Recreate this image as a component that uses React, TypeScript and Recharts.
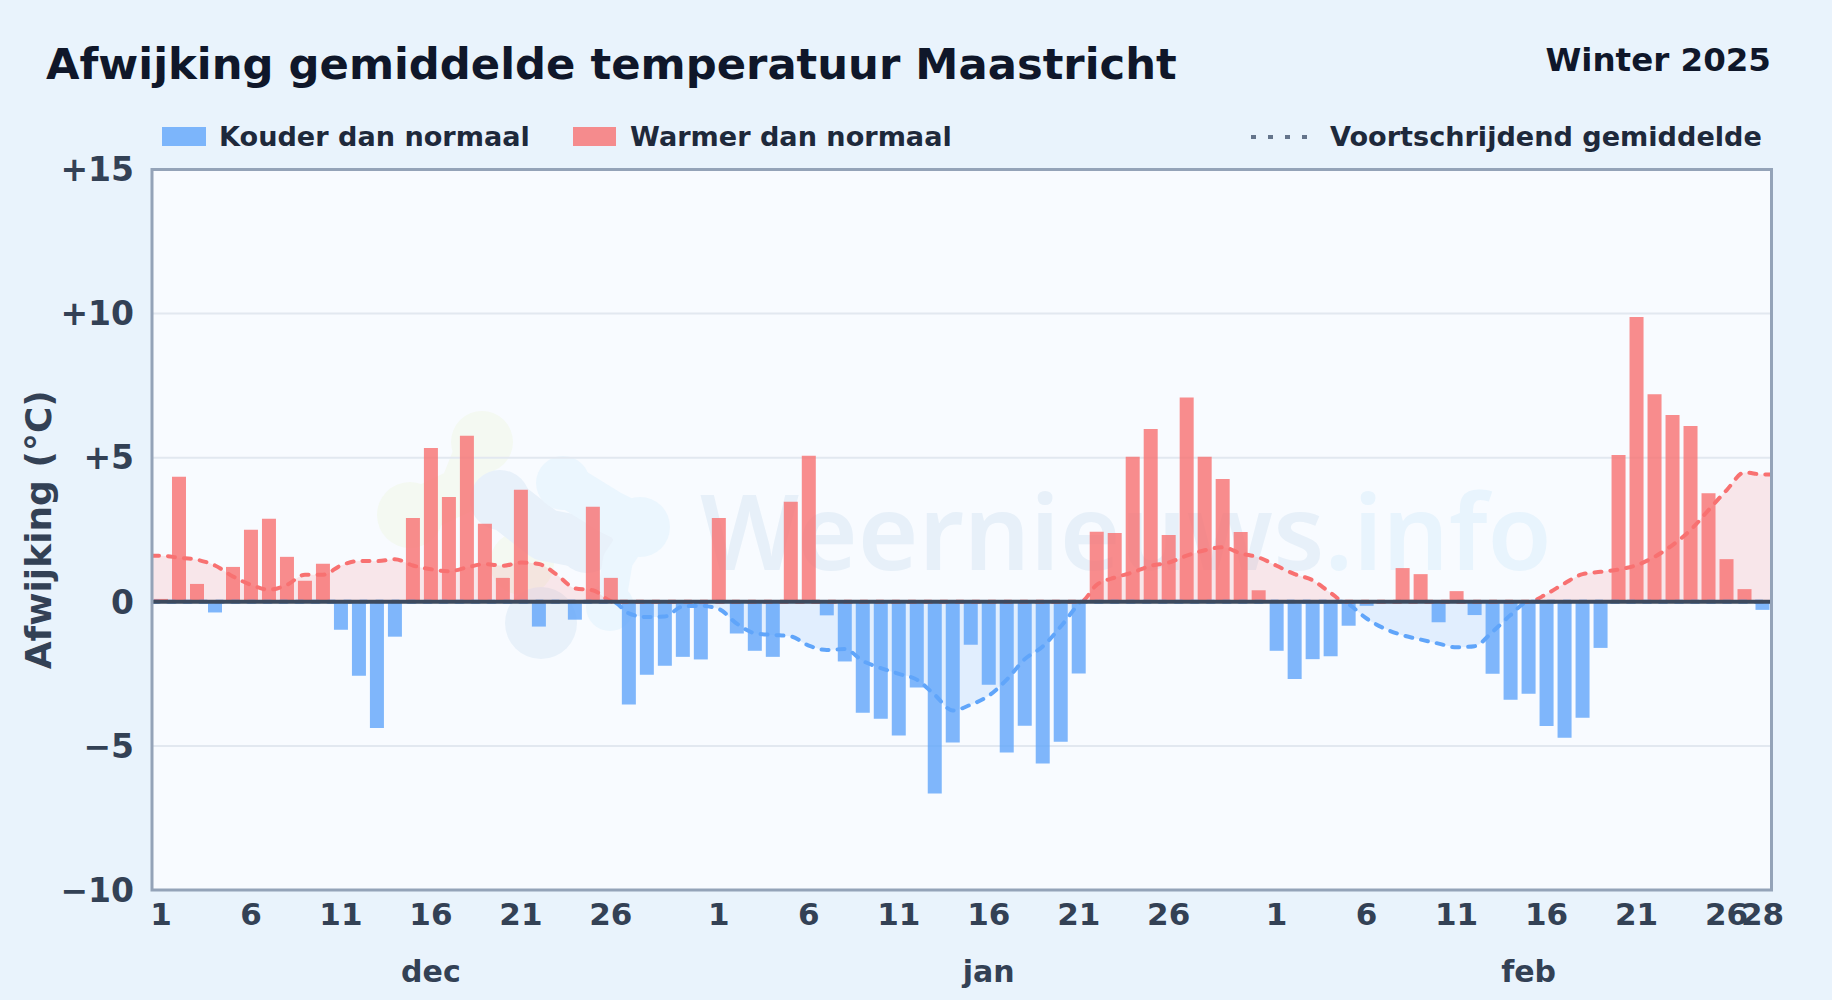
import React from 'react';
import {
  ComposedChart, Bar, Line, Area, Cell, XAxis, YAxis, CartesianGrid, ReferenceLine,
} from 'recharts';

const dayLabels: number[] = [
  1,2,3,4,5,6,7,8,9,10,11,12,13,14,15,16,17,18,19,20,21,22,23,24,25,26,27,28,29,30,31,
  1,2,3,4,5,6,7,8,9,10,11,12,13,14,15,16,17,18,19,20,21,22,23,24,25,26,27,28,29,30,31,
  1,2,3,4,5,6,7,8,9,10,11,12,13,14,15,16,17,18,19,20,21,22,23,24,25,26,27,28,
];

const anomaly: number[] = [
  0.1,4.34,0.62,-0.37,1.21,2.5,2.88,1.56,0.73,1.32,-0.97,-2.57,-4.38,-1.21,2.91,5.34,3.64,5.76,2.71,0.83,3.89,-0.86,0,-0.62,3.3,0.83,-3.56,-2.53,-2.22,-1.91,-2.0,
  2.91,-1.1,-1.7,-1.91,3.47,5.07,-0.47,-2.07,-3.85,-4.06,-4.64,-2.97,-6.65,-4.88,-1.49,-2.88,-5.23,-4.3,-5.61,-4.86,-2.49,2.43,2.39,5.03,6.0,2.32,7.09,5.03,4.26,2.42,0.4,
  -1.7,-2.68,-1.99,-1.89,-0.83,-0.14,0,1.17,0.96,-0.71,0.37,-0.46,-2.5,-3.4,-3.19,-4.31,-4.72,-4.02,-1.6,5.09,9.88,7.2,6.48,6.1,3.77,1.48,0.44,-0.28,
];

const trend: number[] = [
  1.6,1.53,1.46,1.26,0.88,0.59,0.42,0.59,0.94,0.94,1.26,1.42,1.41,1.48,1.26,1.13,1.06,1.19,1.31,1.25,1.36,1.31,0.94,0.47,0.4,0.02,-0.4,-0.53,-0.51,-0.16,-0.14,
  -0.25,-0.76,-1.09,-1.15,-1.2,-1.52,-1.67,-1.64,-2.05,-2.3,-2.5,-2.7,-3.23,-3.77,-3.57,-3.26,-2.7,-1.99,-1.55,-0.86,-0.07,0.59,0.84,1.02,1.25,1.36,1.6,1.79,1.89,1.68,1.54,
  1.25,0.96,0.75,0.31,-0.08,-0.58,-0.93,-1.16,-1.31,-1.45,-1.58,-1.54,-1.04,-0.46,0,0.27,0.64,0.96,1.04,1.12,1.27,1.56,1.97,2.49,3.18,3.87,4.49,4.42,
];

const trendStart = 1.6;
const trendEnd = 4.42;
const trendCrossings: number[] = [25.6, 51.6, 66.3];

const dayTicks: number[] = [0,5,10,15,20,25,31,36,41,46,51,56,62,67,72,77,82,87,89];
const monthTicks: number[] = [15, 46, 76];
const monthNames: Record<number, string> = { 15: 'dec', 46: 'jan', 76: 'feb' };
const yTicks: number[] = [-10, -5, 0, 5, 10, 15];

const rows = anomaly.map((value, idx) => ({ idx, value, day: dayLabels[idx] }));

const trendRows = [
  { t: 0, v: trendStart },
  { t: 90, v: trendEnd },
  ...trend.map((v, i) => ({ t: i + 0.5, v })),
  ...trendCrossings.map((t) => ({ t, v: 0 })),
]
  .sort((a, b) => a.t - b.t)
  .map((r) => ({ t: r.t, warm: Math.max(r.v, 0), cold: Math.min(r.v, 0) }));

const COLD = '#60a5fa';
const WARM = '#f87171';
const FONT = '"DejaVu Sans", sans-serif';
const INK = '#334155';

const fmtY = (v: number) => (v > 0 ? `+${v}` : v < 0 ? `\u2212${Math.abs(v)}` : '0');

function Backdrop() {
  return (
    <svg width={1832} height={1000} style={{ position: 'absolute', left: 0, top: 0 }}>
      <rect x={0} y={0} width={1832} height={1000} fill="#e9f3fc" />
      <rect x={152} y={169.5} width={1619.5} height={720.5} fill="#f8fbff" />
      <g>
        <g stroke="#f4f9f2" fill="#f4f9f2" strokeLinecap="round" strokeLinejoin="round">
          <path d="M482 440 L462 490 L410 515" strokeWidth={46} fill="none" />
          <circle cx={482} cy={442} r={31} stroke="none" />
          <circle cx={410} cy={515} r={33} stroke="none" />
          <circle cx={522} cy={563} r={32} stroke="none" />
        </g>
        <g stroke="#e8f1fa" fill="#e8f1fa" strokeLinecap="round" strokeLinejoin="round">
          <path d="M500 500 L545 535 L587 543" strokeWidth={52} fill="none" />
          <circle cx={500} cy={500} r={30} stroke="none" />
          <circle cx={587} cy={543} r={30} stroke="none" />
          <circle cx={541} cy={623} r={36} stroke="none" />
        </g>
        <g stroke="#ebf6fe" fill="#ebf6fe" strokeLinecap="round" strokeLinejoin="round">
          <path d="M563 483 L610 512 L640 527" strokeWidth={44} fill="none" />
          <path d="M640 527 L618 560 L610 607" strokeWidth={30} fill="none" />
          <circle cx={563} cy={483} r={27} stroke="none" />
          <circle cx={640} cy={527} r={30} stroke="none" />
          <circle cx={610} cy={607} r={24} stroke="none" />
        </g>
      </g>
      <text x={700} y={570} fontFamily='"Noto Sans", sans-serif' fontSize={104} fontWeight={600}>
        <tspan fill="#e7f0f9">Weernieuws</tspan>
        <tspan fill="#e8f4fd">.info</tspan>
      </text>
    </svg>
  );
}

function Header() {
  return (
    <svg width={1832} height={1000} style={{ position: 'absolute', left: 0, top: 0, pointerEvents: 'none' }} fontFamily={FONT} fontWeight={700}>
      <rect x={152} y={169.5} width={1619.5} height={720.5} fill="none" stroke="#94a3b8" strokeWidth={3} />
      <text x={46} y={79} fontSize={43.3} fill="#0f172a">Afwijking gemiddelde temperatuur Maastricht</text>
      <text x={1771} y={71} fontSize={32.5} fill="#0f172a" textAnchor="end">Winter 2025</text>
      <rect x={162} y={127} width={44} height={19} fill={COLD} fillOpacity={0.8} />
      <text x={219} y={145.5} fontSize={27.1} fill="#1e293b">Kouder dan normaal</text>
      <rect x={573} y={127} width={43} height={19} fill={WARM} fillOpacity={0.8} />
      <text x={630} y={145.5} fontSize={27.1} fill="#1e293b">Warmer dan normaal</text>
      <line x1={1251} y1={137} x2={1308} y2={137} stroke="#64748b" strokeWidth={4} strokeDasharray="5 12" />
      <text x={1330} y={145.5} fontSize={27.1} fill="#1e293b">Voortschrijdend gemiddelde</text>
    </svg>
  );
}

export default function App() {
  return (
    <div style={{ position: 'absolute', left: 0, top: 0, width: 1832, height: 1000, overflow: 'hidden' }}>
      <Backdrop />
      <div style={{ position: 'absolute', left: 0, top: 0 }}>
        <ComposedChart
          width={1832}
          height={1000}
          data={rows}
          margin={{ top: 169.5, right: 60.5, left: 0, bottom: 10 }}
          barCategoryGap={0}
        >
          <CartesianGrid horizontal vertical={false} stroke="#e2e8f0" strokeWidth={2} />
          <XAxis
            xAxisId="days"
            dataKey="idx"
            type="category"
            ticks={dayTicks}
            interval={0}
            tickFormatter={(i: number) => String(dayLabels[i])}
            height={50}
            axisLine={false}
            tickLine={false}
            tickMargin={7}
            tick={{ fontSize: 31, fontWeight: 700, fill: INK, fontFamily: FONT }}
          />
          <XAxis
            xAxisId="months"
            dataKey="idx"
            type="category"
            ticks={monthTicks}
            interval={0}
            tickFormatter={(i: number) => monthNames[i]}
            height={50}
            axisLine={false}
            tickLine={false}
            tickMargin={15}
            tick={{ fontSize: 30, fontWeight: 700, fill: INK, fontFamily: FONT }}
          />
          <XAxis xAxisId="trend" dataKey="t" type="number" domain={[0, 90]} hide allowDataOverflow />
          <YAxis
            domain={[-10, 15]}
            ticks={yTicks}
            interval={0}
            width={152}
            tickFormatter={fmtY}
            axisLine={false}
            tickLine={false}
            tickMargin={12}
            tick={{ fontSize: 33, fontWeight: 700, fill: INK, fontFamily: FONT }}
            label={{
              value: 'Afwijking (\u00b0C)',
              angle: -90,
              position: 'insideLeft',
              offset: 38,
              style: { fontSize: 36, fontWeight: 700, fill: INK, fontFamily: FONT, textAnchor: 'middle' },
            }}
          />
          <Area data={trendRows} xAxisId="trend" dataKey="warm" type="monotone" fill={WARM} fillOpacity={0.15} stroke="none" isAnimationActive={false} dot={false} activeDot={false} />
          <Area data={trendRows} xAxisId="trend" dataKey="cold" type="monotone" fill={COLD} fillOpacity={0.15} stroke="none" isAnimationActive={false} dot={false} activeDot={false} />
          <Line data={trendRows} xAxisId="trend" dataKey="warm" type="monotone" stroke={WARM} strokeWidth={4} strokeDasharray="7 9" strokeLinecap="round" dot={false} activeDot={false} isAnimationActive={false} />
          <Line data={trendRows} xAxisId="trend" dataKey="cold" type="monotone" stroke={COLD} strokeWidth={4} strokeDasharray="7 9" strokeLinecap="round" dot={false} activeDot={false} isAnimationActive={false} />
          <Bar xAxisId="days" dataKey="value" barSize={14} isAnimationActive={false}>
            {rows.map((r) => (
              <Cell key={r.idx} fill={r.value >= 0 ? WARM : COLD} fillOpacity={0.8} />
            ))}
          </Bar>
          <ReferenceLine xAxisId="days" y={0} stroke="#3d4a5e" strokeWidth={4} />
        </ComposedChart>
      </div>
      <Header />
    </div>
  );
}
